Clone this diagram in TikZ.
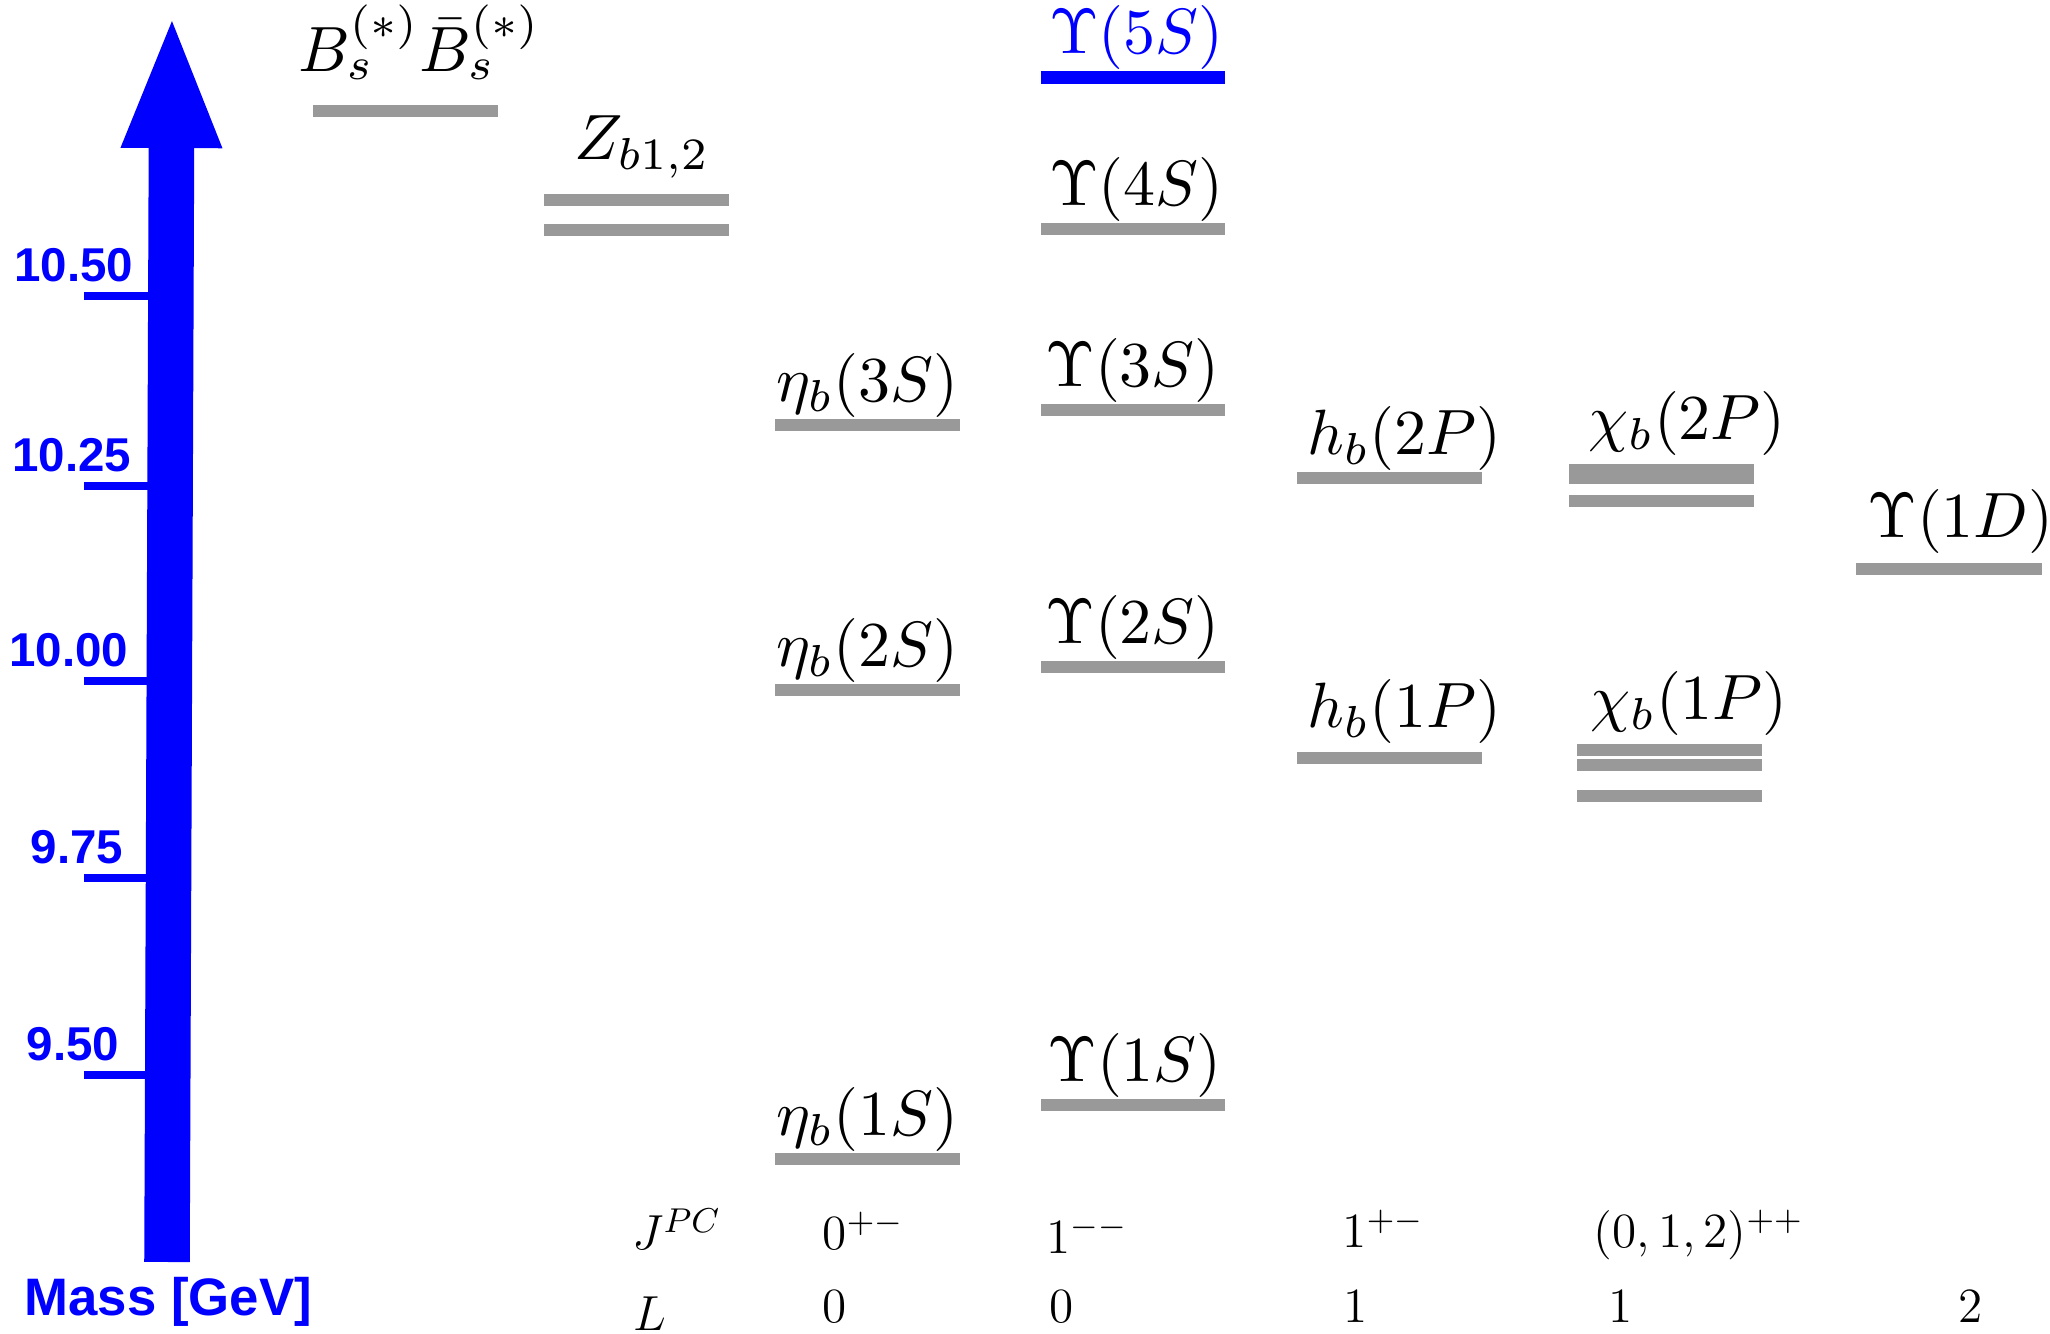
\RequirePackage{fix-cm}
\documentclass[tikz,border=0pt]{standalone}
\usepackage{fontspec}
\usepackage{amsmath}
\newfontfamily\axisfont{Liberation Sans}
\usetikzlibrary{arrows.meta}

\definecolor{massblue}{RGB}{0,0,255}
\definecolor{levelgray}{RGB}{153,153,153}

\begin{document}
\begin{tikzpicture}[x=0.01cm, y=-0.01cm,
  every node/.style={inner sep=0pt, font=\fontsize{10}{12}\selectfont}]
  \tikzset{statebar/.style={levelgray, line width=0.12cm},
    statelabel/.style={scale=1.82},
    masstick/.style={massblue, line width=0.08cm},
    ticklabel/.style={anchor=base east, text=massblue,
      font=\axisfont\bfseries\fontsize{13.5}{15}\selectfont},
    qnum/.style={anchor=base west, font=\fontsize{14}{16}\selectfont}}
  \useasboundingbox (0,0) rectangle (2050,1334);

  % mass axis
  \coordinate (k1050) at (84,296);
  \coordinate (k1025) at (84,486);
  \coordinate (k1000) at (84,681);
  \coordinate (k975)  at (84,878);
  \coordinate (k950)  at (84,1075);
  \draw[masstick] (k1050) -- ++(76,0);
  \draw[masstick] (k1025) -- ++(76,0);
  \draw[masstick] (k1000) -- ++(74,0);
  \draw[masstick] (k975)  -- ++(72,0);
  \draw[masstick] (k950)  -- ++(70,0);
  \node[ticklabel] (l1050) at (134,282)  {10.50};
  \node[ticklabel] (l1025) at (132,472)  {10.25};
  \node[ticklabel] (l1000) at (129,667)  {10.00};
  \node[ticklabel] (l975)  at (124,864)  {9.75};
  \node[ticklabel] (l950)  at (120,1061) {9.50};
  \coordinate (axbot) at (167,1262);
  \coordinate (axtop) at (172,13);
  \draw[massblue, line width=0.455cm, -{Triangle[width=0.9cm, length=1.35cm]}] (axbot) -- (axtop);
  \node[anchor=base west, text=massblue, font=\axisfont\bfseries\fontsize{15}{17}\selectfont]
    (masslab) at (24,1316) {Mass [GeV]};

  % thresholds
  \draw[statebar] (313,111) -- (498,111);
  \node[statelabel, anchor=base west] (bsbs) at (297,72) {$B_s^{(*)}\bar{B}_s^{(*)}$};
  \draw[statebar] (544,200) -- (729,200);
  \draw[statebar] (544,230) -- (729,230);
  \node[statelabel, anchor=base west] (zb) at (573,160) {$Z_{b1,2}$};

  % eta_b
  \draw[statebar] (775,425.5) -- (960,425.5);
  \draw[statebar] (775,690) -- (960,690);
  \draw[statebar] (775,1159) -- (960,1159);
  \node[statelabel, anchor=south west] (eta3) at (775,419)  {$\eta_b(3S)$};
  \node[statelabel, anchor=south west] (eta2) at (775,684)  {$\eta_b(2S)$};
  \node[statelabel, anchor=south west] (eta1) at (775,1153) {$\eta_b(1S)$};

  % Upsilon
  \draw[massblue, line width=0.13cm] (1041,77.5) -- (1225,77.5);
  \draw[statebar] (1041,229) -- (1225,229);
  \draw[statebar] (1041,410) -- (1225,410);
  \draw[statebar] (1041,667) -- (1225,667);
  \draw[statebar] (1041,1105.5) -- (1225,1105.5);
  \node[statelabel, anchor=south east, text=massblue] (ups5) at (1225,71) {$\Upsilon(5S)$};
  \node[statelabel, anchor=south east] (ups4) at (1225,223)  {$\Upsilon(4S)$};
  \node[statelabel, anchor=south west] (ups3) at (1044,404)  {$\Upsilon(3S)$};
  \node[statelabel, anchor=south west] (ups2) at (1044,661)  {$\Upsilon(2S)$};
  \node[statelabel, anchor=south west] (ups1) at (1046,1099) {$\Upsilon(1S)$};

  % h_b
  \draw[statebar] (1297,478) -- (1482,478);
  \draw[statebar] (1297,758) -- (1482,758);
  \node[statelabel, anchor=south west] (hb2) at (1306,472) {$h_b(2P)$};
  \node[statelabel, anchor=south west] (hb1) at (1306,745) {$h_b(1P)$};

  % chi_b
  \draw[statebar] (1569,470) -- (1754,470);
  \draw[statebar] (1569,478) -- (1754,478);
  \draw[statebar] (1569,501) -- (1754,501);
  \draw[statebar] (1577,750) -- (1762,750);
  \draw[statebar] (1577,765.5) -- (1762,765.5);
  \draw[statebar] (1577,796) -- (1762,796);
  \node[statelabel, anchor=south west] (chi2) at (1587,457) {$\chi_b(2P)$};
  \node[statelabel, anchor=south west] (chi1) at (1589,737) {$\chi_b(1P)$};

  % Upsilon(1D)
  \draw[statebar] (1856,569) -- (2042,569);
  \node[statelabel, anchor=south west] (ups1d) at (1866,555) {$\Upsilon(1D)$};

  % quantum numbers
  \node[qnum] (jpc)  at (632,1250)  {$J^{PC}$};
  \node[qnum] (jpc0) at (822,1250)  {$0^{+-}$};
  \node[qnum] (jpc1) at (1046,1254) {$1^{--}$};
  \node[qnum] (jpc2) at (1342,1248) {$1^{+-}$};
  \node[qnum] (jpc3) at (1593,1248) {$(0,1,2)^{++}$};
  \node[qnum] (ell)  at (633,1331)  {$L$};
  \node[qnum] (ell0) at (822,1323)  {$0$};
  \node[qnum] (ell1) at (1049,1323) {$0$};
  \node[qnum] (ell2) at (1343,1323) {$1$};
  \node[qnum] (ell3) at (1608,1323) {$1$};
  \node[qnum] (ell4) at (1958,1323) {$2$};
\end{tikzpicture}
\end{document}
